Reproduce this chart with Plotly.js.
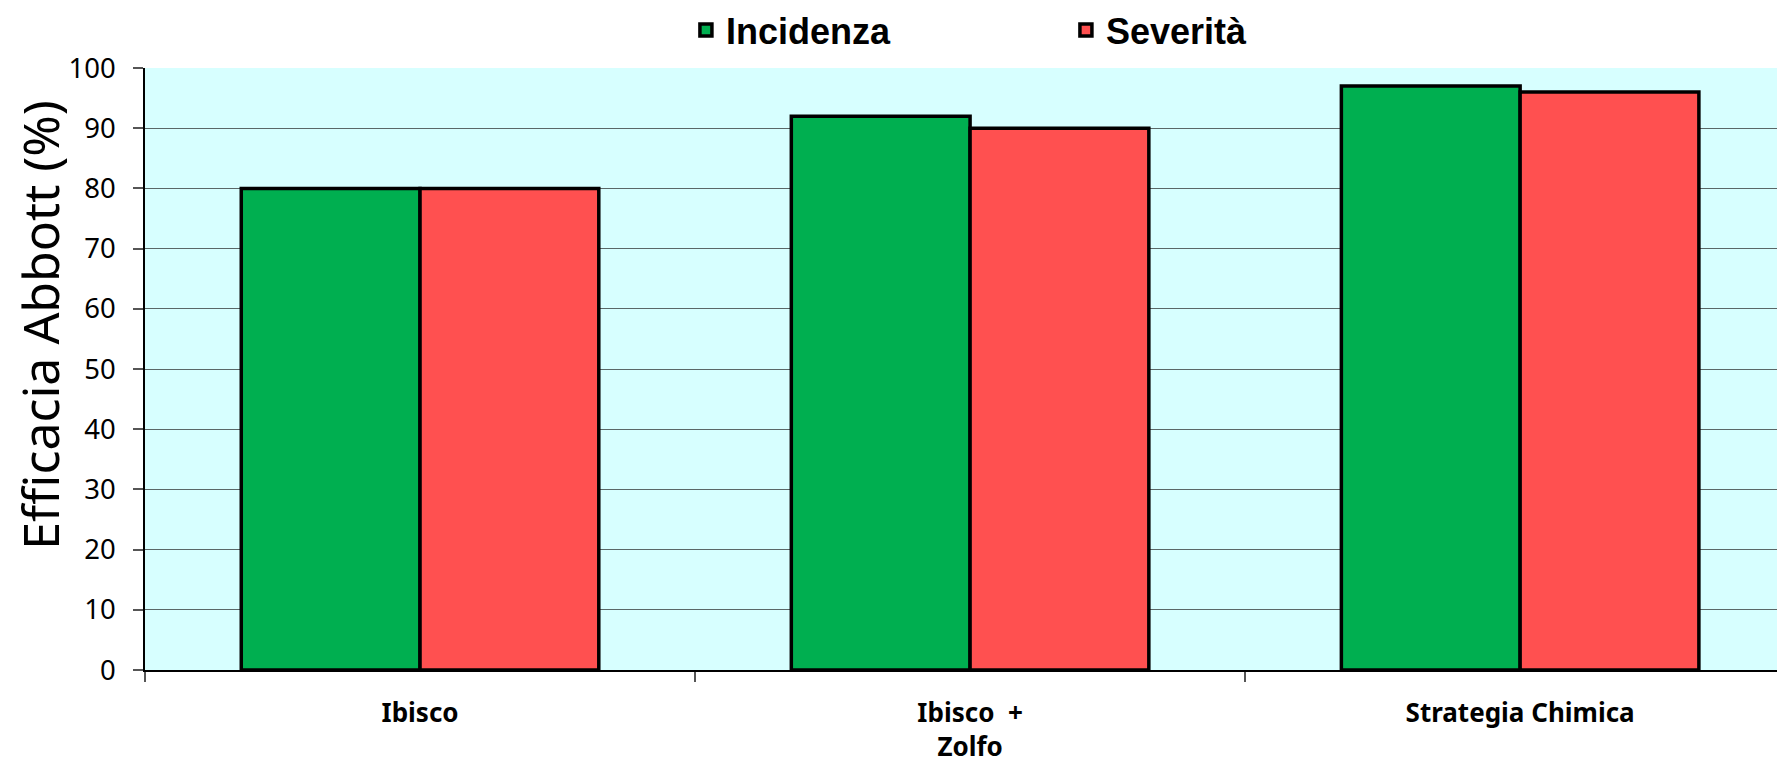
<!DOCTYPE html>
<html>
<head>
<meta charset="utf-8">
<script src="https://cdn.plot.ly/plotly-3.0.1.min.js"></script>
<style>html,body{margin:0;padding:0;background:#fff;}#chart{width:1777px;height:763px;}</style>
</head>
<body>
<div id="chart"></div>
<script>
const categories = ["Ibisco", "Ibisco  +<br>Zolfo", "Strategia Chimica"];
const incidenza = [80, 92, 97];
const severita = [80, 90, 96];
const seriesNames = ["Incidenza", "Severità"];
const yTitle = "Efficacia Abbott (%)";

const lineStyle = {color: "#000000", width: 3.5};
const traces = [
  {type: "bar", name: seriesNames[0], x: categories, y: incidenza,
   marker: {color: "#00AF50", line: lineStyle}, hoverinfo: "x+y"},
  {type: "bar", name: seriesNames[1], x: categories, y: severita,
   marker: {color: "#FF5050", line: lineStyle}, hoverinfo: "x+y"}
];

const layout = {
  width: 1777, height: 763,
  margin: {l: 145, r: 0, t: 68, b: 93, pad: 0},
  paper_bgcolor: "#ffffff",
  plot_bgcolor: "#D7FFFF",
  barmode: "group",
  bargap: 0.35,
  bargroupgap: 0,
  showlegend: true,
  legend: {
    orientation: "h", xref: "container", yref: "container",
    x: 0.386, y: 1.0, xanchor: "left", yanchor: "top",
    font: {family: "Liberation Sans, Arial, sans-serif", size: 36, color: "#000", weight: "bold"},
    entrywidth: 335, entrywidthmode: "pixels",
    itemwidth: 30, bgcolor: "rgba(0,0,0,0)", traceorder: "normal"
  },
  xaxis: {
    type: "category",
    range: [-0.5, 2.467],
    showline: true, linecolor: "#000", linewidth: 1.5,
    ticks: "outside", ticklen: 10, tickcolor: "#555", tickwidth: 1.5,
    tickson: "boundaries",
    ticklabelstandoff: 19,
    tickfont: {family: "Noto Sans, Open Sans, sans-serif", size: 26, color: "#000", weight: "bold"},
    showgrid: false, zeroline: false, fixedrange: true
  },
  yaxis: {
    range: [0, 100], dtick: 10, tick0: 0,
    showline: true, linecolor: "#000", linewidth: 1.5,
    ticks: "outside", ticklen: 10, tickcolor: "#555", tickwidth: 1.5,
    ticklabelstandoff: 12,
    tickfont: {family: "Noto Sans, Open Sans, sans-serif", size: 27.5, color: "#000"},
    showgrid: true, gridcolor: "#5a6767", gridwidth: 1.2,
    zeroline: false, fixedrange: true
  },
  annotations: [{
    text: yTitle, xref: "paper", yref: "paper",
    x: -0.0643, y: 0.572, xanchor: "center", yanchor: "middle",
    textangle: -90, showarrow: false,
    font: {family: "Noto Sans, Open Sans, sans-serif", size: 50, color: "#000"}
  }]
};

Plotly.newPlot("chart", traces, layout, {displayModeBar: false});
</script>
</body>
</html>
